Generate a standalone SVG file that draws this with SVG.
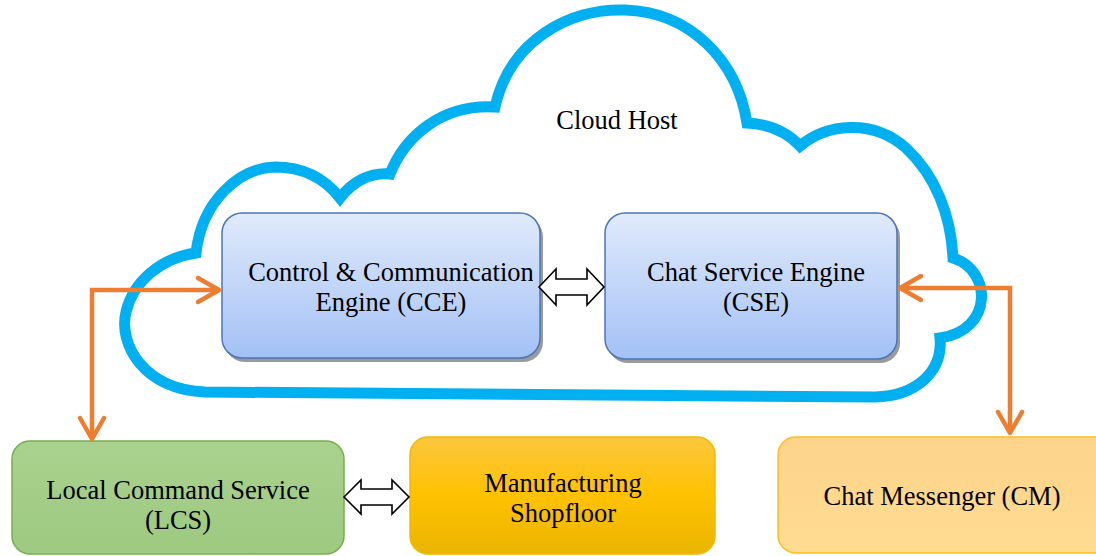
<svg xmlns="http://www.w3.org/2000/svg" width="1096" height="556" viewBox="0 0 1096 556">
  <defs>
    <linearGradient id="gBlue" x1="0" y1="0" x2="0" y2="1">
      <stop offset="0" stop-color="#e0eafb"/>
      <stop offset="1" stop-color="#a3c1f6"/>
    </linearGradient>
    <linearGradient id="gGreen" x1="0" y1="0" x2="0" y2="1">
      <stop offset="0" stop-color="#aad28f"/>
      <stop offset="1" stop-color="#9dc980"/>
    </linearGradient>
    <linearGradient id="gGold" x1="0" y1="0" x2="0" y2="1">
      <stop offset="0" stop-color="#fbc63e"/>
      <stop offset="0.5" stop-color="#ffc200"/>
      <stop offset="1" stop-color="#e9b500"/>
    </linearGradient>
    <linearGradient id="gPeach" x1="0" y1="0" x2="0" y2="1">
      <stop offset="0" stop-color="#fdd38a"/>
      <stop offset="1" stop-color="#ffdc91"/>
    </linearGradient>
    <clipPath id="cceClip">
      <rect x="222" y="213" width="311" height="145"/>
    </clipPath>
    <marker id="vArrow" markerUnits="userSpaceOnUse" markerWidth="40" markerHeight="40" viewBox="-30 -20 40 40" refX="0" refY="0" orient="auto-start-reverse">
      <path d="M -21,-12 L 0,0 L -21,12" fill="none" stroke="#ed7d31" stroke-width="4.5" stroke-linecap="round" stroke-linejoin="round"/>
    </marker>
    <style>
      .lbl { font-family: "Liberation Serif", "Times New Roman", serif; font-size: 26.5px; fill: #000; text-anchor: middle; }
      .shadow { fill: #9a9a9a; }
      .blue { fill: url(#gBlue); stroke: #4a76b8; stroke-width: 1.5; }
      .green { fill: url(#gGreen); stroke: #74b04c; stroke-width: 1.5; }
      .gold { fill: url(#gGold); stroke: #f3b800; stroke-width: 1.5; }
      .peach { fill: url(#gPeach); stroke: #fbbf1a; stroke-width: 1.5; }
      .conn { fill: none; stroke: #ed7d31; stroke-width: 4.5; stroke-linejoin: miter; }
      .dbl { fill: #fff; stroke: #000; stroke-width: 1.6; stroke-linejoin: miter; }
    </style>
  </defs>

  <rect width="1096" height="556" fill="#fff"/>

  <g id="cloud-host">
    <path d="M 205,392
             C 145,390 118,345 126,312
             C 133,282 160,258 196,253
             C 202,200 240,168 275,167
             C 305,167 326,180 340,198
             C 352,182 370,172 390,174
             C 405,136 442,104 495,107
             C 510,40 570,8 625,10
             C 690,12 737,60 747,123
             C 767,124 786,131 800,146
             C 826,124 872,118 906,148
             C 936,176 951,216 953,258
             C 992,270 994,330 940,338
             C 943,372 916,396 875,397
             L 205,392 Z"
          fill="none" stroke="#00b0f0" stroke-width="11" stroke-linejoin="miter" stroke-miterlimit="10"/>
    <text class="lbl" x="617" y="129">Cloud Host</text>
  </g>

  <g id="cce">
    <rect class="shadow" x="225" y="217" width="318" height="145" rx="20"/>
    <rect class="blue" x="222" y="213" width="318" height="145" rx="20"/>
    <g clip-path="url(#cceClip)">
      <text class="lbl" x="391" y="281">Control &amp; Communication</text>
    </g>
    <text class="lbl" x="391" y="311">Engine (CCE)</text>
  </g>

  <g id="cse">
    <rect class="shadow" x="608" y="217" width="292" height="146" rx="20"/>
    <rect class="blue" x="605" y="213" width="292" height="146" rx="20"/>
    <text class="lbl" x="756" y="281">Chat Service Engine</text>
    <text class="lbl" x="756" y="311">(CSE)</text>
  </g>

  <g id="lcs">
    <rect class="green" x="12" y="441" width="332" height="113" rx="18"/>
    <text class="lbl" x="178" y="499">Local Command Service</text>
    <text class="lbl" x="178" y="529">(LCS)</text>
  </g>

  <g id="shopfloor">
    <rect class="gold" x="410" y="437" width="305" height="117" rx="18"/>
    <text class="lbl" x="563" y="492">Manufacturing</text>
    <text class="lbl" x="563" y="522">Shopfloor</text>
  </g>

  <g id="cm">
    <rect class="peach" x="778" y="437" width="340" height="116" rx="18"/>
    <text class="lbl" x="942" y="505">Chat Messenger (CM)</text>
  </g>

  <g id="connectors">
    <path class="dbl" d="M539,287 L556,269 L556,279 L587,279 L587,269 L604,287 L587,305 L587,295 L556,295 L556,305 Z"/>
    <path class="dbl" d="M344,497 L361,480 L361,489 L392,489 L392,480 L409,497 L392,514 L392,505 L361,505 L361,514 Z"/>
    <path class="conn" d="M 219,290 H 92 V 439" marker-start="url(#vArrow)" marker-end="url(#vArrow)"/>
    <path class="conn" d="M 900,288 H 1010 V 433" marker-start="url(#vArrow)" marker-end="url(#vArrow)"/>
  </g>
</svg>
